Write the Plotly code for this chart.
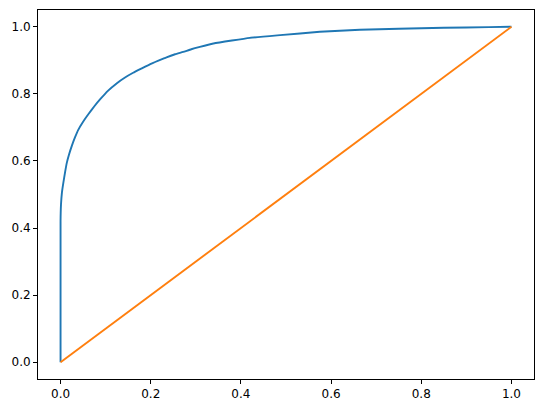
import plotly.graph_objects as go

fpr = [0, 0, 0.001, 0.003, 0.006, 0.010, 0.014, 0.019, 0.025, 0.032, 0.039, 0.050, 0.062,
       0.075, 0.088, 0.105, 0.125, 0.143, 0.161, 0.180, 0.198, 0.217, 0.235, 0.254, 0.272,
       0.290, 0.309, 0.339, 0.38, 0.42, 0.487, 0.575, 0.664, 0.75, 0.85, 0.95, 1.0]
tpr = [0, 0.42, 0.47, 0.505, 0.533, 0.566, 0.595, 0.620, 0.645, 0.670, 0.692, 0.717, 0.740,
       0.763, 0.784, 0.809, 0.832, 0.849, 0.863, 0.876, 0.888, 0.899, 0.909, 0.918, 0.925,
       0.933, 0.940, 0.950, 0.959, 0.967, 0.975, 0.985, 0.991, 0.994, 0.997, 0.999, 1.0]
diag_x = [0, 1]
diag_y = [0, 1]

fig = go.Figure()
fig.add_trace(go.Scatter(x=fpr, y=tpr, mode="lines",
                         line=dict(color="#1f77b4", width=1.9, shape="spline", smoothing=0.4),
                         showlegend=False))
fig.add_trace(go.Scatter(x=diag_x, y=diag_y, mode="lines",
                         line=dict(color="#ff7f0e", width=1.9), showlegend=False))

axis_common = dict(showline=True, mirror=True, linecolor="black", linewidth=1,
                   ticks="outside", ticklen=4, tickwidth=1, tickcolor="black",
                   showgrid=False, zeroline=False, tickformat=".1f", dtick=0.2, tick0=0,
                   automargin=False,
                   tickfont=dict(family="DejaVu Sans", size=12, color="black"))
fig.update_xaxes(range=[-0.05, 1.05], **axis_common)
fig.update_yaxes(range=[-0.05, 1.05], **axis_common)
fig.update_layout(width=542, height=411, margin=dict(l=38, r=8, t=10, b=32),
                  plot_bgcolor="white", paper_bgcolor="white")
fig.write_html("out.html", config={"displayModeBar": False},
               post_script="document.body.style.margin='0';document.body.style.overflow='hidden';")
